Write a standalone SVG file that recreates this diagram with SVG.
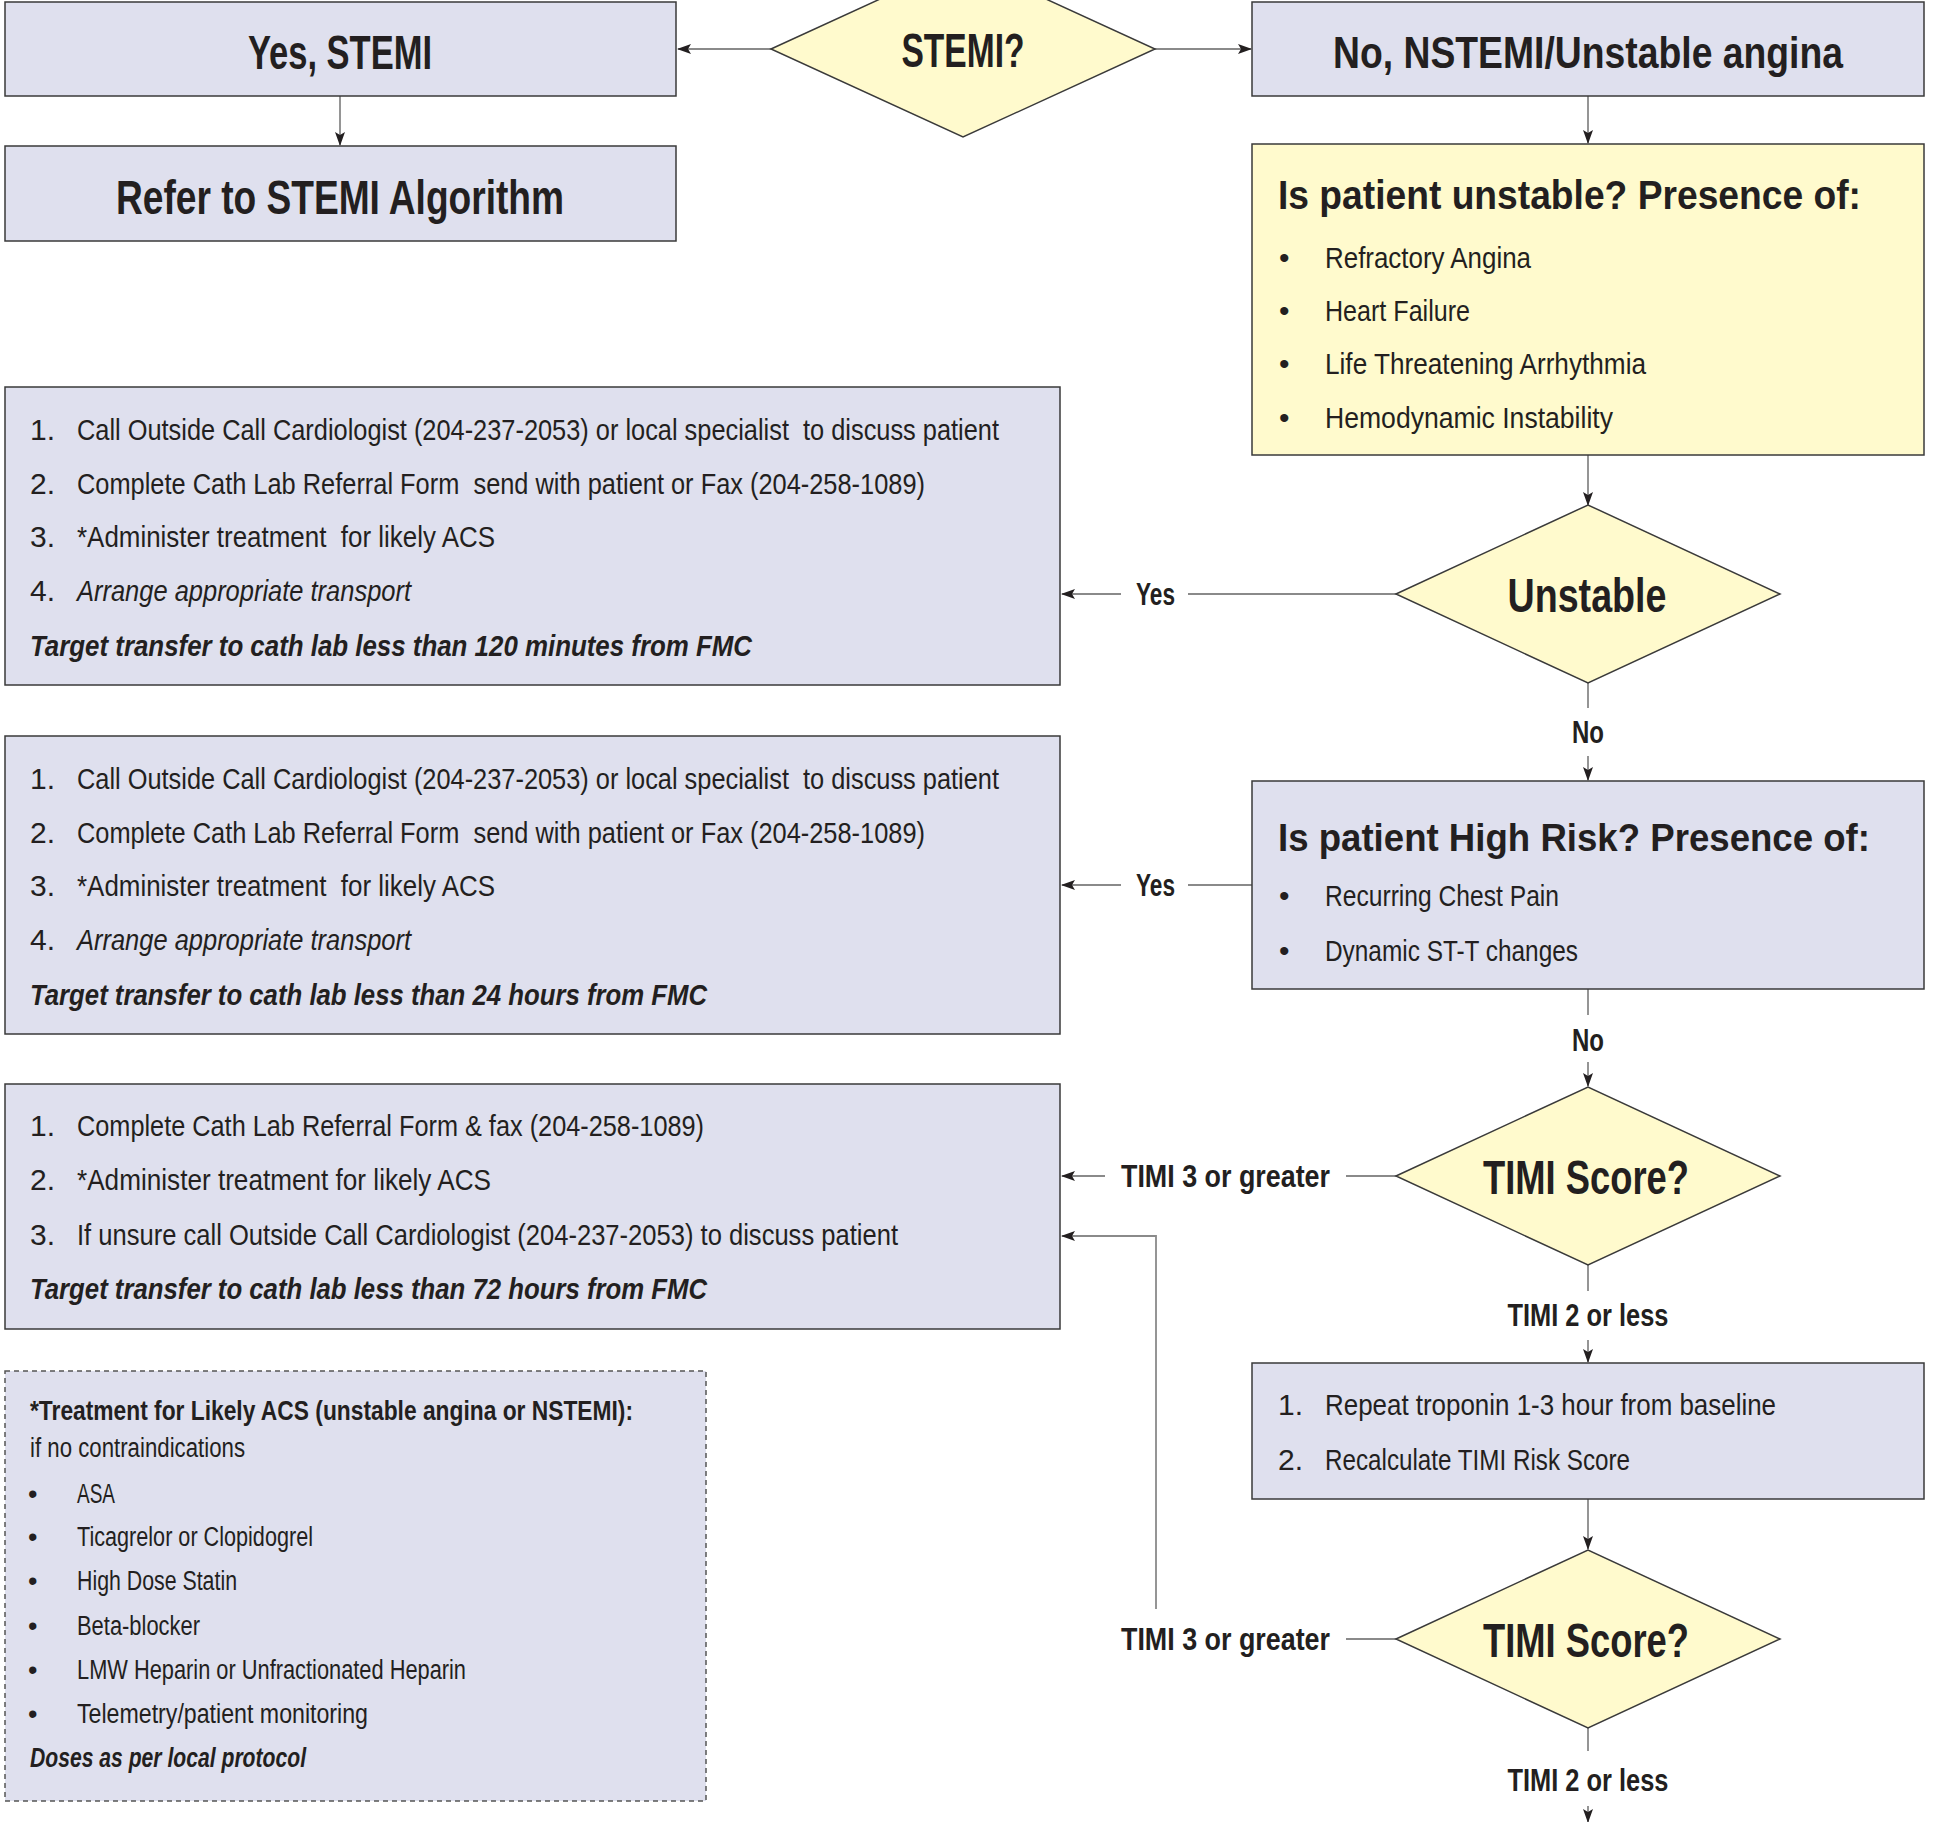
<svg xmlns="http://www.w3.org/2000/svg" width="1936" height="1822" viewBox="0 0 1936 1822">
<style>
text{font-family:"Liberation Sans Narrow","Liberation Sans",Arial,sans-serif;fill:#231f20;}
.h{font-size:48px;font-weight:bold;}
.h2{font-size:44px;font-weight:bold;}
.h3{font-size:41px;font-weight:bold;}
.h4{font-size:39px;font-weight:bold;}
.lb{font-size:32px;font-weight:bold;}
.b{font-size:30px;}
.bi{font-size:30px;font-style:italic;}
.bbi{font-size:30px;font-style:italic;font-weight:bold;}
.s{font-size:27px;}
.sb{font-size:27px;font-weight:bold;}
.sbi{font-size:27px;font-weight:bold;font-style:italic;}
.box{fill:#dfe0ee;stroke:#3a3a3a;stroke-width:1.5;}
.ybox{fill:#fffacd;stroke:#3a3a3a;stroke-width:1.5;}
.dia{fill:#fffacd;stroke:#3a3a3a;stroke-width:1.5;}
.dash{fill:#dfe0ee;stroke:#555;stroke-width:1.5;stroke-dasharray:5 4;}
.c{fill:none;stroke:#8a8a8a;stroke-width:1.8;}
.m{text-anchor:middle;}
</style>
<defs>
<marker id="ah" viewBox="0 0 14 10" refX="13" refY="5" markerWidth="14" markerHeight="10" markerUnits="userSpaceOnUse" orient="auto">
<path d="M0,0 L14,5 L0,10 L3,5 z" fill="#231f20"/>
</marker>
</defs>
<rect width="1936" height="1822" fill="#ffffff"/>

<g id="connectors">
<line class="c" x1="771" y1="49" x2="678" y2="49" marker-end="url(#ah)"/>
<line class="c" x1="1155" y1="49" x2="1251" y2="49" marker-end="url(#ah)"/>
<line class="c" x1="340" y1="96" x2="340" y2="145" marker-end="url(#ah)"/>
<line class="c" x1="1588" y1="96" x2="1588" y2="143" marker-end="url(#ah)"/>
<line class="c" x1="1588" y1="455" x2="1588" y2="505" marker-end="url(#ah)"/>
<line class="c" x1="1396" y1="594" x2="1188" y2="594"/>
<line class="c" x1="1121" y1="594" x2="1062" y2="594" marker-end="url(#ah)"/>
<line class="c" x1="1588" y1="683" x2="1588" y2="708"/>
<line class="c" x1="1588" y1="756" x2="1588" y2="780" marker-end="url(#ah)"/>
<line class="c" x1="1252" y1="885" x2="1188" y2="885"/>
<line class="c" x1="1121" y1="885" x2="1062" y2="885" marker-end="url(#ah)"/>
<line class="c" x1="1588" y1="989" x2="1588" y2="1015"/>
<line class="c" x1="1588" y1="1062" x2="1588" y2="1086" marker-end="url(#ah)"/>
<line class="c" x1="1396" y1="1176" x2="1346" y2="1176"/>
<line class="c" x1="1105" y1="1176" x2="1062" y2="1176" marker-end="url(#ah)"/>
<line class="c" x1="1588" y1="1265" x2="1588" y2="1291"/>
<line class="c" x1="1588" y1="1340" x2="1588" y2="1362" marker-end="url(#ah)"/>
<line class="c" x1="1588" y1="1499" x2="1588" y2="1549" marker-end="url(#ah)"/>
<line class="c" x1="1396" y1="1639" x2="1346" y2="1639"/>
<polyline class="c" points="1156,1609 1156,1236 1062,1236" marker-end="url(#ah)"/>
<line class="c" x1="1588" y1="1728" x2="1588" y2="1751"/>
<line class="c" x1="1588" y1="1806" x2="1588" y2="1822" marker-end="url(#ah)"/>
<text class="lb" x="1136" y="605" textLength="39" lengthAdjust="spacingAndGlyphs">Yes</text>
<text class="lb" x="1136" y="896" textLength="39" lengthAdjust="spacingAndGlyphs">Yes</text>
<text class="lb m" x="1588" y="743" textLength="32" lengthAdjust="spacingAndGlyphs">No</text>
<text class="lb m" x="1588" y="1051" textLength="32" lengthAdjust="spacingAndGlyphs">No</text>
<text class="lb" x="1121" y="1187" textLength="209" lengthAdjust="spacingAndGlyphs">TIMI 3 or greater</text>
<text class="lb m" x="1588" y="1326" textLength="161" lengthAdjust="spacingAndGlyphs">TIMI 2 or less</text>
<text class="lb" x="1121" y="1650" textLength="209" lengthAdjust="spacingAndGlyphs">TIMI 3 or greater</text>
<text class="lb m" x="1588" y="1791" textLength="161" lengthAdjust="spacingAndGlyphs">TIMI 2 or less</text>
</g>

<g id="stemi-decision">
<polygon class="dia" points="771,49 963,-39 1155,49 963,137"/>
<text class="h m" x="963" y="67" textLength="123" lengthAdjust="spacingAndGlyphs">STEMI?</text>
</g>

<g id="yes-stemi">
<rect class="box" x="5" y="2" width="671" height="94"/>
<text class="h m" x="340" y="69" textLength="184" lengthAdjust="spacingAndGlyphs">Yes, STEMI</text>
</g>

<g id="no-nstemi">
<rect class="box" x="1252" y="2" width="672" height="94"/>
<text class="h2 m" x="1588" y="68" textLength="510" lengthAdjust="spacingAndGlyphs">No, NSTEMI/Unstable angina</text>
</g>

<g id="refer-stemi">
<rect class="box" x="5" y="146" width="671" height="95"/>
<text class="h m" x="340" y="214" textLength="448" lengthAdjust="spacingAndGlyphs">Refer to STEMI Algorithm</text>
</g>

<g id="unstable-question">
<rect class="ybox" x="1252" y="144" width="672" height="311"/>
<text class="h3" x="1278" y="209" textLength="583" lengthAdjust="spacingAndGlyphs">Is patient unstable? Presence of:</text>
<text class="b" x="1279" y="268">•</text>
<text class="b" x="1325" y="268" textLength="206" lengthAdjust="spacingAndGlyphs">Refractory Angina</text>
<text class="b" x="1279" y="321">•</text>
<text class="b" x="1325" y="321" textLength="145" lengthAdjust="spacingAndGlyphs">Heart Failure</text>
<text class="b" x="1279" y="374">•</text>
<text class="b" x="1325" y="374" textLength="321" lengthAdjust="spacingAndGlyphs">Life Threatening Arrhythmia</text>
<text class="b" x="1279" y="428">•</text>
<text class="b" x="1325" y="428" textLength="288" lengthAdjust="spacingAndGlyphs">Hemodynamic Instability</text>
</g>

<g id="unstable-decision">
<polygon class="dia" points="1396,594 1588,505 1780,594 1588,683"/>
<text class="h m" x="1587" y="612" textLength="159" lengthAdjust="spacingAndGlyphs">Unstable</text>
</g>

<g id="box-120min">
<rect class="box" x="5" y="387" width="1055" height="298"/>
<text class="b" x="30" y="440">1.</text>
<text class="b" x="77" y="440" xml:space="preserve" textLength="922" lengthAdjust="spacingAndGlyphs">Call Outside Call Cardiologist (204-237-2053) or local specialist  to discuss patient</text>
<text class="b" x="30" y="494">2.</text>
<text class="b" x="77" y="494" xml:space="preserve" textLength="848" lengthAdjust="spacingAndGlyphs">Complete Cath Lab Referral Form  send with patient or Fax (204-258-1089)</text>
<text class="b" x="30" y="547">3.</text>
<text class="b" x="77" y="547" xml:space="preserve" textLength="418" lengthAdjust="spacingAndGlyphs">*Administer treatment  for likely ACS</text>
<text class="b" x="30" y="601">4.</text>
<text class="bi" x="77" y="601" textLength="334" lengthAdjust="spacingAndGlyphs">Arrange appropriate transport</text>
<text class="bbi" x="30" y="656" textLength="722" lengthAdjust="spacingAndGlyphs">Target transfer to cath lab less than 120 minutes from FMC</text>
</g>

<g id="box-24h">
<rect class="box" x="5" y="736" width="1055" height="298"/>
<text class="b" x="30" y="789">1.</text>
<text class="b" x="77" y="789" xml:space="preserve" textLength="922" lengthAdjust="spacingAndGlyphs">Call Outside Call Cardiologist (204-237-2053) or local specialist  to discuss patient</text>
<text class="b" x="30" y="843">2.</text>
<text class="b" x="77" y="843" xml:space="preserve" textLength="848" lengthAdjust="spacingAndGlyphs">Complete Cath Lab Referral Form  send with patient or Fax (204-258-1089)</text>
<text class="b" x="30" y="896">3.</text>
<text class="b" x="77" y="896" xml:space="preserve" textLength="418" lengthAdjust="spacingAndGlyphs">*Administer treatment  for likely ACS</text>
<text class="b" x="30" y="950">4.</text>
<text class="bi" x="77" y="950" textLength="334" lengthAdjust="spacingAndGlyphs">Arrange appropriate transport</text>
<text class="bbi" x="30" y="1005" textLength="677" lengthAdjust="spacingAndGlyphs">Target transfer to cath lab less than 24 hours from FMC</text>
</g>

<g id="high-risk-question">
<rect class="box" x="1252" y="781" width="672" height="208"/>
<text class="h4" x="1278" y="851" textLength="592" lengthAdjust="spacingAndGlyphs">Is patient High Risk? Presence of:</text>
<text class="b" x="1279" y="906">•</text>
<text class="b" x="1325" y="906" textLength="234" lengthAdjust="spacingAndGlyphs">Recurring Chest Pain</text>
<text class="b" x="1279" y="961">•</text>
<text class="b" x="1325" y="961" textLength="253" lengthAdjust="spacingAndGlyphs">Dynamic ST-T changes</text>
</g>

<g id="timi-decision-1">
<polygon class="dia" points="1396,1176 1588,1087 1780,1176 1588,1265"/>
<text class="h m" x="1586" y="1194" textLength="206" lengthAdjust="spacingAndGlyphs">TIMI Score?</text>
</g>

<g id="box-72h">
<rect class="box" x="5" y="1084" width="1055" height="245"/>
<text class="b" x="30" y="1136">1.</text>
<text class="b" x="77" y="1136" textLength="627" lengthAdjust="spacingAndGlyphs">Complete Cath Lab Referral Form &amp; fax (204-258-1089)</text>
<text class="b" x="30" y="1190">2.</text>
<text class="b" x="77" y="1190" textLength="414" lengthAdjust="spacingAndGlyphs">*Administer treatment for likely ACS</text>
<text class="b" x="30" y="1245">3.</text>
<text class="b" x="77" y="1245" textLength="821" lengthAdjust="spacingAndGlyphs">If unsure call Outside Call Cardiologist (204-237-2053) to discuss patient</text>
<text class="bbi" x="30" y="1299" textLength="677" lengthAdjust="spacingAndGlyphs">Target transfer to cath lab less than 72 hours from FMC</text>
</g>

<g id="repeat-troponin">
<rect class="box" x="1252" y="1363" width="672" height="136"/>
<text class="b" x="1278" y="1415">1.</text>
<text class="b" x="1325" y="1415" textLength="451" lengthAdjust="spacingAndGlyphs">Repeat troponin 1-3 hour from baseline</text>
<text class="b" x="1278" y="1470">2.</text>
<text class="b" x="1325" y="1470" textLength="305" lengthAdjust="spacingAndGlyphs">Recalculate TIMI Risk Score</text>
</g>

<g id="timi-decision-2">
<polygon class="dia" points="1396,1639 1588,1550 1780,1639 1588,1728"/>
<text class="h m" x="1586" y="1657" textLength="206" lengthAdjust="spacingAndGlyphs">TIMI Score?</text>
</g>

<g id="treatment-note">
<rect class="dash" x="5" y="1371" width="701" height="430"/>
<text class="sb" x="30" y="1420" textLength="603" lengthAdjust="spacingAndGlyphs">*Treatment for Likely ACS (unstable angina or NSTEMI):</text>
<text class="s" x="30" y="1457" textLength="215" lengthAdjust="spacingAndGlyphs">if no contraindications</text>
<text class="s" x="28" y="1503">•</text>
<text class="s" x="77" y="1503" textLength="38" lengthAdjust="spacingAndGlyphs">ASA</text>
<text class="s" x="28" y="1546">•</text>
<text class="s" x="77" y="1546" textLength="236" lengthAdjust="spacingAndGlyphs">Ticagrelor or Clopidogrel</text>
<text class="s" x="28" y="1590">•</text>
<text class="s" x="77" y="1590" textLength="160" lengthAdjust="spacingAndGlyphs">High Dose Statin</text>
<text class="s" x="28" y="1635">•</text>
<text class="s" x="77" y="1635" textLength="123" lengthAdjust="spacingAndGlyphs">Beta-blocker</text>
<text class="s" x="28" y="1679">•</text>
<text class="s" x="77" y="1679" textLength="389" lengthAdjust="spacingAndGlyphs">LMW Heparin or Unfractionated Heparin</text>
<text class="s" x="28" y="1723">•</text>
<text class="s" x="77" y="1723" textLength="291" lengthAdjust="spacingAndGlyphs">Telemetry/patient monitoring</text>
<text class="sbi" x="30" y="1767" textLength="276" lengthAdjust="spacingAndGlyphs">Doses as per local protocol</text>
</g>
</svg>
